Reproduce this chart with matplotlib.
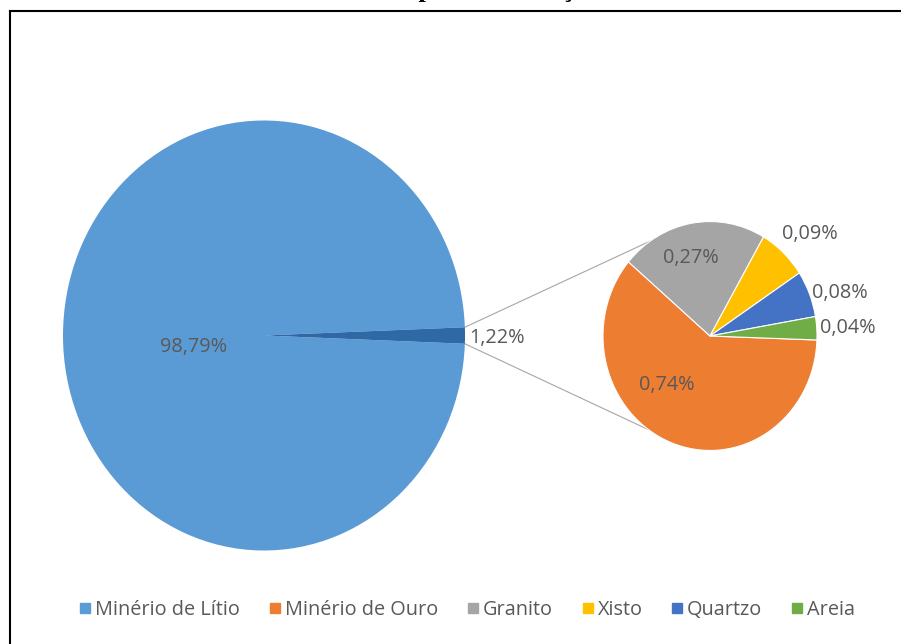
"""Pie-of-pie chart: composition by material type."""
import matplotlib.pyplot as plt
import numpy as np

plt.rcParams["font.family"] = ["Open Sans", "DejaVu Sans"]

# data
main_labels = ["Minério de Lítio", "Outros"]
main_values = [98.79, 1.22]
main_text = ["98,79%", "1,22%"]

sub_labels = ["Minério de Ouro", "Granito", "Xisto", "Quartzo", "Areia"]
sub_values = [0.74, 0.27, 0.09, 0.08, 0.04]
sub_text = ["0,74%", "0,27%", "0,09%", "0,08%", "0,04%"]

legend_labels = ["Minério de Lítio", "Minério de Ouro", "Granito",
                 "Xisto", "Quartzo", "Areia"]

MAIN_COLOURS = ["#5B9BD5", "#2E68A5"]
SUB_COLOURS = ["#ED7D31", "#A5A5A5", "#FFC000", "#4472C4", "#70AD47"]
LEGEND_COLOURS = ["#5B9BD5", "#ED7D31", "#A5A5A5", "#FFC000",
                  "#4472C4", "#70AD47"]
TEXT = "#595959"
FS = 14.3

W, H = 901, 644
K = 215 / 201            # the picture is slightly stretched vertically


def py(y_pix):
    """pixel row (top=0) -> data y"""
    return (H - y_pix) / K


fig = plt.figure(figsize=(W / 100, H / 100), dpi=100)
ax = fig.add_axes([0, 0, 1, 1])

c1 = (264, py(335.5))
r1 = 201
c2 = (710, py(336))
r2 = 107

ax.pie(main_values, colors=MAIN_COLOURS, startangle=-2.2,
       counterclock=False, center=c1, radius=r1,
       wedgeprops=dict(linewidth=0))
ax.pie(sub_values, colors=SUB_COLOURS, startangle=-2.0,
       counterclock=False, center=c2, radius=r2,
       wedgeprops=dict(linewidth=0.8, edgecolor="white"))

ax.set_xlim(0, W)
ax.set_ylim(0, H / K)
ax.set_aspect("auto")
ax.axis("off")

# connector lines
for a1, a2 in [(2.2, 124), (-2.2, -125)]:
    p1 = (c1[0] + r1 * np.cos(np.radians(a1)), c1[1] + r1 * np.sin(np.radians(a1)))
    p2 = (c2[0] + r2 * np.cos(np.radians(a2)), c2[1] + r2 * np.sin(np.radians(a2)))
    ax.plot([p1[0], p2[0]], [p1[1], p2[1]], color="#A6A6A6", lw=0.8, zorder=0)

# data labels (offsets in radius units)
main_pos = [(-0.35, -0.055, "center"), (1.02, -0.01, "left")]
for (dx, dy, ha), t in zip(main_pos, main_text):
    ax.text(c1[0] + dx * r1, c1[1] + dy * r1, t, ha=ha, va="center",
            fontsize=FS, color=TEXT)

sub_pos = [(-0.40, -0.43, "center"), (-0.18, 0.68, "center"),
           (0.67, 0.89, "left"), (0.95, 0.38, "left"), (1.03, 0.07, "left")]
for (dx, dy, ha), t in zip(sub_pos, sub_text):
    ax.text(c2[0] + dx * r2, c2[1] + dy * r2, t, ha=ha, va="center",
            fontsize=FS, color=TEXT)

# legend
handles = [plt.Line2D([], [], marker="s", linestyle="none", markersize=7,
                      color=c) for c in LEGEND_COLOURS]
leg = fig.legend(handles, legend_labels, loc="center", ncol=6,
                 bbox_to_anchor=(0.517, (H - 610) / H), frameon=False,
                 fontsize=FS, handletextpad=0.05, columnspacing=1.3,
                 handlelength=0.9)
for t in leg.get_texts():
    t.set_color(TEXT)

# page frame and cut-off title
fig.add_artist(plt.Line2D([10 / W, 1], [1 - 11 / H, 1 - 11 / H],
                          transform=fig.transFigure, color="black", lw=1.5))
fig.add_artist(plt.Line2D([10 / W, 10 / W], [0, 1 - 11 / H],
                          transform=fig.transFigure, color="black", lw=1.5))
fig.text(497 / W, 1 + 3 / H, "Tipo de Formação", ha="center", va="baseline",
         fontsize=19, fontweight="bold", family=["Liberation Serif"])

fig.savefig("out.png", dpi=100)
